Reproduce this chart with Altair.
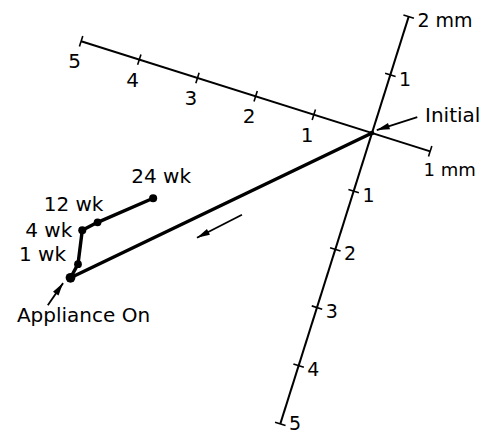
import altair as alt
import numpy as np
import pandas as pd

# Displacement path (mm) measured along the tilted reference axes
stages = ["Initial", "Appliance On", "1 wk", "4 wk", "12 wk", "24 wk"]
u_mm = [0.0, -4.0, -3.95, -4.05, -3.85, -3.1]   # along the horizontal reference axis
v_mm = [0.0, -3.75, -3.5, -2.95, -2.75, -2.1]   # along the vertical reference axis

# Reference axes
h_axis_range = [-5, 1]
v_axis_range = [-5, 2]
h_tick_pos = [-5, -4, -3, -2, -1, 1]
h_label_pos = [-5, -4, -3, -2, -1]
h_label_text = ["5", "4", "3", "2", "1"]
h_unit_pos = [1]
h_unit_text = ["1 mm"]
v_tick_pos = [2, 1, -1, -2, -3, -4, -5]
v_label_pos = [2, 1, -1, -2, -3, -4]
v_label_text = ["2 mm", "1", "1", "2", "3", "4"]
v_end_pos = [-5]
v_end_text = ["5"]

# Annotation arrows (tail -> tip), mm
arrow_tail_u = [0.63, -4.22, -1.63]
arrow_tail_v = [0.47, -4.29, -1.92]
arrow_tip_u = [0.06, -4.09, -2.22]
arrow_tip_v = [0.07, -3.87, -2.50]

TILT = np.deg2rad(17.5)
COS, SIN = np.cos(TILT), np.sin(TILT)
TICK_HALF = 0.09
FONT = "DejaVu Sans"


def rot(u, v):
    u = np.asarray(u, dtype=float)
    v = np.asarray(v, dtype=float)
    return u * COS + v * SIN, -u * SIN + v * COS


xs = alt.Scale(domain=[-372 / 61, 118 / 61], nice=False, zero=False)
ys = alt.Scale(domain=[(133 - 435) / 61, 133 / 61], nice=False, zero=False)
enc_x = alt.X("X:Q", scale=xs, axis=None)
enc_y = alt.Y("Y:Q", scale=ys, axis=None)


def segments(u1, v1, u2, v2):
    X, Y = rot(u1, v1)
    X2, Y2 = rot(u2, v2)
    return pd.DataFrame({"X": X, "Y": Y, "X2": X2, "Y2": Y2})


def rule_layer(df, width):
    return alt.Chart(df).mark_rule(color="black", strokeWidth=width).encode(
        x=enc_x, y=enc_y, x2="X2:Q", y2="Y2:Q"
    )


# axis lines
axes_df = segments(
    [h_axis_range[0], 0], [0, v_axis_range[0]],
    [h_axis_range[1], 0], [0, v_axis_range[1]],
)
axes = rule_layer(axes_df, 2)

# tick marks perpendicular to each axis
hp = np.array(h_tick_pos, dtype=float)
vp = np.array(v_tick_pos, dtype=float)
ticks_df = pd.concat([
    segments(hp, -TICK_HALF * np.ones_like(hp), hp, TICK_HALF * np.ones_like(hp)),
    segments(-TICK_HALF * np.ones_like(vp), vp, TICK_HALF * np.ones_like(vp), vp),
])
ticks = rule_layer(ticks_df, 1.6)

# displacement path
PX, PY = rot(u_mm, v_mm)
path_df = pd.DataFrame({"stage": stages, "X": PX, "Y": PY, "order": range(len(stages)),
                        "size": [22, 95, 60, 65, 60, 65]})
path = alt.Chart(path_df).mark_line(color="black", strokeWidth=3.4, strokeJoin="round").encode(
    x=enc_x, y=enc_y, order="order:Q"
)
dots = alt.Chart(path_df).mark_circle(color="black", opacity=1).encode(
    x=enc_x, y=enc_y, size=alt.Size("size:Q", scale=None, legend=None)
)

# annotation arrows
arrow_lines = rule_layer(segments(arrow_tail_u, arrow_tail_v, arrow_tip_u, arrow_tip_v), 1.8)
TX, TY = rot(arrow_tip_u, arrow_tip_v)
SX, SY = rot(arrow_tail_u, arrow_tail_v)
heads_df = pd.DataFrame({
    "X": TX, "Y": TY,
    "angle": np.mod(np.degrees(np.arctan2(TX - SX, TY - SY)), 360),
})
heads = alt.Chart(heads_df).mark_point(
    shape="M0,0L0.6,2.3L-0.6,2.3Z", filled=True, color="black", opacity=1, size=125, strokeWidth=0.5
).encode(x=enc_x, y=enc_y, angle=alt.Angle("angle:Q", scale=None))


def text_layer(df, align, size, dx=0, dy=0):
    return alt.Chart(df).mark_text(
        align=align, baseline="middle", font=FONT, fontSize=size, color="black", dx=dx, dy=dy
    ).encode(x=enc_x, y=enc_y, text="label:N")


def label_df(u, v, labels):
    X, Y = rot(u, v)
    return pd.DataFrame({"X": X, "Y": Y, "label": labels})


h_labels = text_layer(label_df(h_label_pos, [-0.36] * len(h_label_pos), h_label_text), "center", 20)
h_unit = text_layer(label_df(h_unit_pos, [-0.36], h_unit_text), "left", 18, dy=-1)
v_labels = text_layer(label_df([0.15] * len(v_label_pos), v_label_pos, v_label_text), "left", 19, dy=2)
# the last label sits at the bottom edge, nudged up to stay inside the canvas
v_end = text_layer(label_df([0.15], v_end_pos, v_end_text), "left", 19, dy=-3)

# stage labels placed next to their points
stage_offsets = {
    "Initial": ("left", 53, -17),
    "Appliance On": ("center", 13, 38),
    "1 wk": ("right", -12, -9),
    "4 wk": ("right", -10, 1),
    "12 wk": ("center", -24, -17),
    "24 wk": ("center", 8, -21),
}
stage_layers = []
for i, name in enumerate(stages):
    align, dx, dy = stage_offsets[name]
    df = pd.DataFrame({"X": [PX[i]], "Y": [PY[i]], "label": [name]})
    stage_layers.append(text_layer(df, align, 20, dx=dx, dy=dy))

chart = alt.layer(
    axes, ticks, path, dots, arrow_lines, heads, h_labels, h_unit, v_labels, v_end, *stage_layers
).properties(
    width=490, height=435, padding=0, autosize=alt.AutoSizeParams(type="none")
).configure_view(stroke=None)

chart.save("out.html", embed_options={"renderer": "svg", "actions": False})
